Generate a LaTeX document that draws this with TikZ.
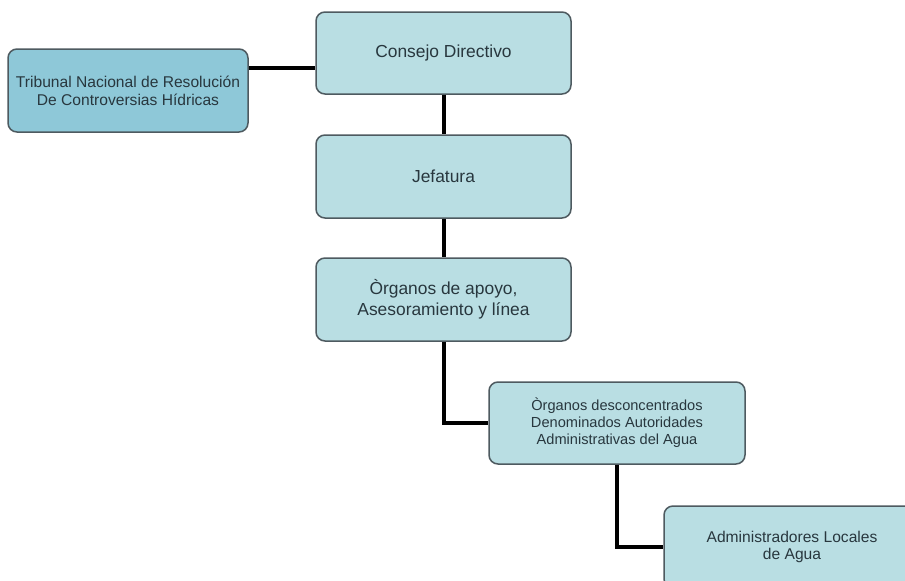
\documentclass[tikz,border=0pt]{standalone}
\usepackage{fontspec}
\setmainfont{Liberation Sans}
\definecolor{boxfill}{RGB}{185,222,227}
\definecolor{boxfilldark}{RGB}{142,200,216}
\definecolor{boxedge}{RGB}{78,90,96}
\definecolor{txt}{RGB}{40,55,62}
\tikzset{
  orgbox/.style={draw=boxedge, line width=1.5pt, fill=boxfill, rounded corners=9pt,
    minimum width=255pt, minimum height=82pt, inner sep=0pt, align=center, text=txt},
  conn/.style={draw=black, line width=4pt}
}
\begin{document}
\begin{tikzpicture}[x=1pt,y=-1pt]
\clip (0,0) rectangle (905,581);
\fill[white] (0,0) rectangle (905,581);
\node[orgbox, fill=boxfilldark, minimum width=240pt, minimum height=83pt,
  font=\fontsize{15.6}{18}\selectfont] (trib) at (128,90.5)
  {Tribunal Nacional de Resolución\\De Controversias Hídricas};
\node[orgbox, font=\fontsize{17.4}{21}\selectfont] (cons) at (443.5,53) {Consejo Directivo};
\node[orgbox, minimum height=83pt, font=\fontsize{17.4}{21}\selectfont] (jef) at (443.5,176.5) {Jefatura};
\node[orgbox, minimum height=83pt, font=\fontsize{17.4}{21}\selectfont] (org) at (443.5,299.5)
  {Òrganos de apoyo,\\Asesoramiento y línea};
\node[orgbox, minimum width=256pt, font=\fontsize{14.6}{17}\selectfont] (desc) at (617,423)
  {Òrganos desconcentrados\\Denominados Autoridades\\Administrativas del Agua};
\node[orgbox, minimum width=256pt, font=\fontsize{15.6}{17}\selectfont] (adm) at (792,547)
  {Administradores Locales\\de Agua};
\coordinate (tj) at (282,68);
\draw[conn] (trib.east |- tj) -- (cons.west |- tj);
\draw[conn] (cons.south) -- (jef.north);
\draw[conn] (jef.south) -- (org.north);
\draw[conn] (org.south) -- (org.south |- desc.west) -- (desc.west);
\draw[conn] (desc.south) -- (desc.south |- adm.west) -- (adm.west);
\end{tikzpicture}
\end{document}
